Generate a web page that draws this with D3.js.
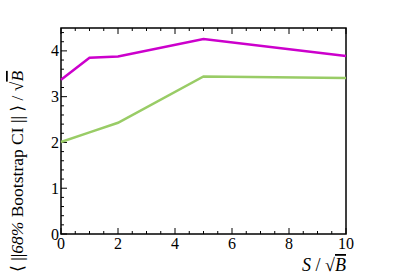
<!DOCTYPE html>
<html>
<head>
<meta charset="utf-8">
<script src="https://cdn.jsdelivr.net/npm/d3@7"></script>
<style>
  html, body { margin: 0; padding: 0; background: #fff; }
  svg { display: block; }
  svg text { font-family: "Liberation Serif", "DejaVu Serif", serif; }
</style>
</head>
<body>
<div id="chart"></div>
<script>
// S / sqrt(B) values
const xValues = [0, 1, 2, 5, 10];
// <||68% bootstrap CI||> / sqrt(B)
const magentaValues = [3.37, 3.85, 3.88, 4.26, 3.89];
const greenValues = [2.01, 2.22, 2.43, 3.44, 3.41];
const xTicks = [0, 2, 4, 6, 8, 10];
const yTicks = [0, 1, 2, 3, 4];

const width = 407, height = 277;
const margin = { left: 61, right: 61, top: 28, bottom: 43 };

const svg = d3.select("#chart").append("svg")
    .attr("width", width)
    .attr("height", height);

const x = d3.scaleLinear().domain([0, 10]).range([margin.left, width - margin.right]);
const y = d3.scaleLinear().domain([0, 4.5]).range([height - margin.bottom, margin.top]);

// ticks (ROOT style, drawn inside the frame)
const xMinor = d3.range(0, 10.01, 0.5);
const yMinor = d3.range(0, 4.51, 0.2);

const tickG = svg.append("g").attr("stroke", "#000").attr("stroke-width", 1);
xMinor.forEach(v => {
    const major = Math.abs(v / 2 - Math.round(v / 2)) < 1e-6;
    const len = major ? 6 : 3;
    tickG.append("line")
        .attr("x1", x(v)).attr("x2", x(v))
        .attr("y1", y(0)).attr("y2", y(0) - len);
    tickG.append("line")
        .attr("x1", x(v)).attr("x2", x(v))
        .attr("y1", y(4.5)).attr("y2", y(4.5) + len);
});
yMinor.forEach(v => {
    const major = Math.abs(v - Math.round(v)) < 1e-6;
    const len = major ? 6 : 3;
    tickG.append("line")
        .attr("x1", x(0)).attr("x2", x(0) + len)
        .attr("y1", y(v)).attr("y2", y(v));
});

// frame
svg.append("rect")
    .attr("x", x(0)).attr("y", y(4.5))
    .attr("width", x(10) - x(0)).attr("height", y(0) - y(4.5))
    .attr("fill", "none").attr("stroke", "#000").attr("stroke-width", 1.5);

// tick labels
svg.append("g").selectAll("text")
    .data(xTicks).enter().append("text")
    .attr("x", d => x(d))
    .attr("y", y(0) + 15)
    .attr("text-anchor", "middle")
    .attr("font-size", 16)
    .text(d => d);

svg.append("g").selectAll("text")
    .data(yTicks).enter().append("text")
    .attr("x", x(0) - 2)
    .attr("y", d => y(d) + 5.5)
    .attr("text-anchor", "end")
    .attr("font-size", 16)
    .text(d => d);

// series
const line = d3.line().x((d, i) => x(xValues[i])).y(d => y(d));
svg.append("path")
    .datum(greenValues)
    .attr("d", line)
    .attr("fill", "none")
    .attr("stroke", "#99cc66")
    .attr("stroke-width", 2.5);
svg.append("path")
    .datum(magentaValues)
    .attr("d", line)
    .attr("fill", "none")
    .attr("stroke", "#cc00cc")
    .attr("stroke-width", 2.5);

// x axis title
const xt = svg.append("text")
    .attr("x", x(10))
    .attr("y", 271)
    .attr("text-anchor", "end")
    .attr("font-size", 18);
xt.append("tspan").attr("font-style", "italic").text("S");
xt.append("tspan").text("  /  \u221A");
xt.append("tspan").attr("font-style", "italic").attr("text-decoration", "overline").text("B");

// y axis title
const yt = svg.append("text")
    .attr("transform", "translate(23,272) rotate(-90)")
    .attr("text-anchor", "start")
    .attr("font-size", 17.5);
yt.append("tspan").text("\u27E8 ||");
yt.append("tspan").attr("font-style", "italic").text("68%");
yt.append("tspan").text(" Bootstrap CI || \u27E9 / \u221A");
yt.append("tspan").attr("font-style", "italic").attr("text-decoration", "overline").text("B");
</script>
</body>
</html>
